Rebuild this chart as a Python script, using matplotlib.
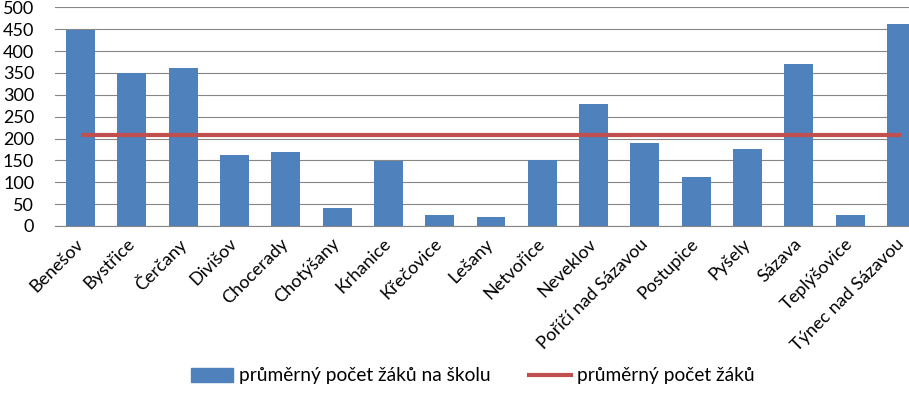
import matplotlib.pyplot as plt
from matplotlib.patches import Patch
from matplotlib.lines import Line2D

plt.rcParams['font.family'] = ['Lato', 'DejaVu Sans']

obce = ['Benešov', 'Bystřice', 'Čerčany', 'Divišov', 'Chocerady', 'Chotýšany',
        'Krhanice', 'Křečovice', 'Lešany', 'Netvořice', 'Neveklov',
        'Poříčí nad Sázavou', 'Postupice', 'Pyšely', 'Sázava', 'Teplýšovice',
        'Týnec nad Sázavou']
zaku_na_skolu = [448, 350, 362, 163, 170, 41, 149, 25, 21, 151, 279,
                 190, 112, 176, 371, 25, 462]
prumer = 207

fig = plt.figure(figsize=(9.09, 4.13), dpi=100)
ax = fig.add_axes([55 / 909, 187 / 413, 872 / 909, 218.7 / 413])

x = list(range(len(obce)))
ax.bar(x, zaku_na_skolu, width=0.565, color='#4F81BD', zorder=2)
ax.plot(x, [prumer] * len(x), color='#C0504D', linewidth=3, zorder=3,
        solid_capstyle='butt')

ax.set_xlim(-0.5, len(obce) - 0.5)
ax.set_ylim(0, 500)
ax.set_yticks(range(0, 501, 50))
ax.grid(axis='y', color='#868686', linewidth=0.8, zorder=0)
ax.set_axisbelow(True)
for s in ['top', 'right', 'left']:
    ax.spines[s].set_visible(False)
ax.spines['bottom'].set_color('#868686')
ax.spines['bottom'].set_linewidth(0.8)
ax.tick_params(axis='y', length=0, pad=15, labelsize=13)
ax.tick_params(axis='x', length=0, pad=11)

ax.set_xticks(x)
ax.set_xticklabels(obce, rotation=45, ha='right', va='center',
                   rotation_mode='anchor', fontsize=13)

handles = [Patch(color='#4F81BD'),
           Line2D([0], [0], color='#C0504D', linewidth=3)]
fig.legend(handles, ['průměrný počet žáků na školu', 'průměrný počet žáků'],
           loc='center', bbox_to_anchor=(0.52, 1 - 376 / 413), ncol=2,
           frameon=False, fontsize=13.8, handlelength=2.2, handletextpad=0.3,
           columnspacing=2.0)

fig.savefig('out.png', dpi=100)
